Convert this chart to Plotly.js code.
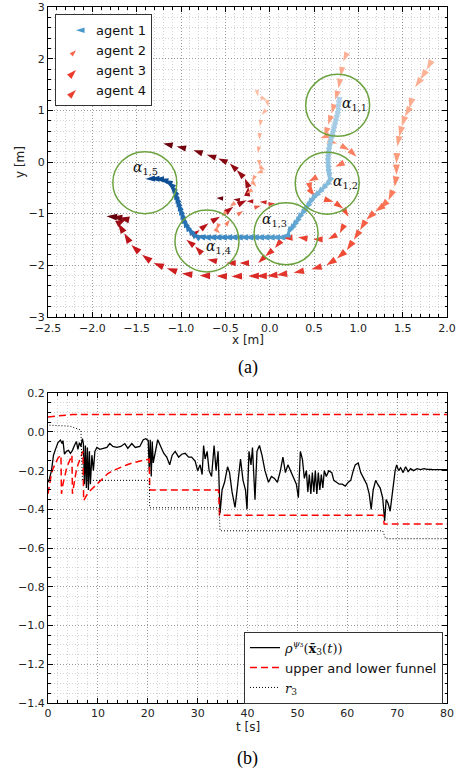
<!DOCTYPE html>
<html>
<head>
<meta charset="utf-8">
<script src="https://cdn.plot.ly/plotly-3.0.1.min.js"></script>
<style>html,body{margin:0;padding:0;background:#fff;}#chart{width:459px;height:770px;}</style>
</head>
<body>
<div id="chart"></div>
<script>
// ---------- (a) trajectories ----------
const agent1X = [0.78,0.775,0.77,0.765,0.755,0.745,0.735,0.725,0.715,0.705,0.695,0.685,0.677,0.67,0.665,0.662,0.66,0.66,0.662,0.665,0.667,0.668,0.665,
  0.64,0.6,0.56,0.52,0.48,0.45,0.42,0.39,0.36,0.33,0.30,0.27,0.24,0.21,0.19,
  0.13,0.07,0.01,-0.05,-0.11,-0.17,-0.23,-0.29,-0.35,-0.41,-0.47,-0.53,-0.59,-0.65,-0.71,-0.77,-0.83,
  -0.87,-0.9,-0.93,-0.955,-0.975,-0.99,-1.005,-1.02,-1.035,-1.05,-1.065,-1.08,-1.1,-1.125,-1.16,-1.2,-1.25,-1.3,-1.35,-1.4];
const agent1Y = [1.15,1.08,1.01,0.94,0.87,0.80,0.73,0.66,0.59,0.52,0.45,0.38,0.31,0.24,0.17,0.10,0.03,-0.04,-0.11,-0.18,-0.25,-0.32,-0.38,
  -0.44,-0.51,-0.58,-0.65,-0.72,-0.79,-0.87,-0.94,-1.01,-1.08,-1.16,-1.23,-1.30,-1.37,-1.43,
  -1.46,-1.46,-1.46,-1.46,-1.46,-1.46,-1.46,-1.46,-1.46,-1.46,-1.46,-1.46,-1.46,-1.46,-1.46,-1.45,-1.43,
  -1.38,-1.32,-1.25,-1.17,-1.09,-1.01,-0.93,-0.85,-0.77,-0.69,-0.62,-0.55,-0.49,-0.43,-0.38,-0.35,-0.33,-0.325,-0.325,-0.33];

const agent2X = [-0.15,-0.13,-0.03,-0.015,-0.09,-0.11,-0.115,-0.13,-0.11,-0.05,-0.15,-0.2,-0.15,-0.26,-0.45,-0.54,-0.6,-0.56,-0.45,-0.3,-0.1,0.06,-0.11,-0.26,-0.41,-0.6];
const agent2Y = [1.43,1.27,1.2,1.07,0.91,0.69,0.43,0.17,-0.09,-0.16,-0.22,-0.38,-0.48,-0.61,-0.87,-1.06,-1.32,-1.38,-1.12,-0.95,-0.85,-0.8,-0.77,-0.76,-0.72,-0.7];

const agent3X = [0.87,0.83,0.80,0.775,0.74,0.70,0.66,0.62,0.57,0.76,0.9,0.98,0.74,0.44,0.47,0.51,0.72,0.83,0.89,0.79,0.66,0.49,0.32,0.15,0.06,-0.05,-0.13,-0.34,-0.49,-0.70,-0.84,-0.94,-0.79,-0.69,-0.56,-0.41,-0.26,-0.24,-0.28,-0.37,-0.45,-0.58,-0.71,-0.86,-1.05,-1.2];
const agent3Y = [2.11,1.95,1.66,1.43,1.2,0.94,0.72,0.49,0.46,0.36,0.23,0.1,-0.09,-0.38,-0.58,-0.67,-0.77,-0.9,-1.06,-1.38,-1.5,-1.5,-1.46,-1.48,-1.67,-1.83,-1.96,-1.96,-1.96,-1.89,-1.64,-1.51,-1.32,-1.19,-1.06,-0.87,-0.74,-0.48,-0.32,-0.16,-0.03,0.07,0.14,0.23,0.3,0.36];

const agent4X = [1.83,1.77,1.70,1.64,1.575,1.525,1.49,1.46,1.44,1.43,1.43,1.41,1.34,1.24,1.19,1.09,1.02,0.95,0.87,0.76,0.64,0.47,0.27,0.08,-0.03,-0.15,-0.24,-0.43,-0.6,-0.79,-0.99,-1.16,-1.31,-1.44,-1.56,-1.64,-1.71,-1.62,-1.7,-1.78,-1.84];
const agent4Y = [1.98,1.79,1.6,1.45,1.04,0.88,0.69,0.49,0.3,-0.03,-0.25,-0.48,-0.74,-0.9,-0.96,-1.12,-1.32,-1.51,-1.71,-1.87,-2.0,-2.08,-2.15,-2.19,-2.21,-2.21,-2.21,-2.22,-2.21,-2.2,-2.16,-2.06,-1.96,-1.8,-1.61,-1.38,-1.19,-1.11,-1.08,-1.06,-1.05];

const agentNames = ['agent 1','agent 2','agent 3','agent 4'];

const regionX = [0.767,0.649,0.185,-0.707,-1.408];
const regionY = [1.10,-0.41,-1.39,-1.53,-0.40];
const regionLabels = ['<i>α</i><sub>1,1</sub>','<i>α</i><sub>1,2</sub>','<i>α</i><sub>1,3</sub>','<i>α</i><sub>1,4</sub>','<i>α</i><sub>1,5</sub>'];
const regionLabelX = [0.955,0.86,0.05,-0.58,-1.40];
const regionLabelY = [1.13,-0.39,-1.13,-1.64,-0.11];

// ---------- (b) robustness over time ----------
const rhoT = [0,0.3,0.7,1.1,1.5,2.0,2.5,2.8,3.0,3.3,
  3.7,4.1,4.5,4.9,5.3,5.7,6.0,6.3,6.6,6.9,
  7.1,7.3,7.5,7.7,7.9,8.1,8.3,8.5,8.8,9.1,
  9.4,9.8,10.4,11.0,11.8,12.4,13.0,13.8,14.6,15.4,
  16.0,16.8,17.5,18.4,19.1,19.6,20.1,20.3,20.5,20.7,
  20.9,21.1,21.5,22.0,22.6,23.2,23.8,24.4,24.9,25.5,
  26.2,26.8,27.5,28.2,28.8,29.5,30.0,30.5,30.9,31.2,
  31.5,31.9,32.3,32.8,33.3,33.7,34.1,34.5,34.9,35.4,
  36.0,36.4,36.9,37.5,38.0,38.6,39.1,39.6,39.9,40.3,
  40.7,41.0,41.5,41.9,42.4,42.9,43.5,44.2,44.8,45.4,
  46.0,46.6,47.1,47.6,48.1,48.6,49.2,49.8,50.2,50.6,
  51.0,51.4,51.8,52.1,52.4,52.7,53.0,53.3,53.6,53.9,
  54.2,54.5,54.8,55.1,55.4,55.8,56.3,56.9,57.3,57.8,
  58.4,59.0,59.6,60.2,60.7,61.2,61.6,62.2,62.7,63.3,
  63.9,64.4,64.8,65.2,65.7,66.1,66.6,67.1,67.5,67.8,
  68.2,68.6,69.1,69.6,69.9,70.3,70.7,71.2,71.7,72.2,
  72.7,73.3,74.0,74.7,75.4,76.0,77.0,78.0,79.0,80.0];
const rhoV = [-0.26,-0.24,-0.2,-0.12,-0.09,-0.055,-0.042,-0.06,-0.045,-0.115,
  -0.1,-0.095,-0.11,-0.095,-0.07,-0.05,-0.09,-0.055,-0.075,-0.035,
  -0.06,-0.27,-0.07,-0.29,-0.08,-0.3,-0.1,-0.27,-0.12,-0.2,
  -0.1,-0.08,-0.09,-0.085,-0.08,-0.06,-0.075,-0.08,-0.075,-0.06,
  -0.085,-0.06,-0.08,-0.075,-0.04,-0.035,-0.045,-0.2,-0.04,-0.23,
  -0.05,-0.16,-0.1,-0.04,-0.075,-0.11,-0.13,-0.17,-0.12,-0.1,
  -0.13,-0.115,-0.11,-0.13,-0.13,-0.15,-0.2,-0.17,-0.22,-0.07,
  -0.14,-0.1,-0.2,-0.23,-0.07,-0.2,-0.1,-0.42,-0.3,-0.26,
  -0.18,-0.21,-0.31,-0.39,-0.28,-0.14,-0.25,-0.3,-0.4,-0.1,
  -0.17,-0.08,-0.35,-0.1,-0.07,-0.12,-0.2,-0.26,-0.23,-0.24,
  -0.26,-0.2,-0.13,-0.21,-0.17,-0.2,-0.24,-0.27,-0.34,-0.1,
  -0.14,-0.24,-0.2,-0.31,-0.22,-0.32,-0.21,-0.31,-0.2,-0.32,
  -0.21,-0.3,-0.22,-0.29,-0.2,-0.23,-0.2,-0.21,-0.25,-0.26,
  -0.27,-0.27,-0.28,-0.26,-0.25,-0.2,-0.17,-0.16,-0.21,-0.24,
  -0.27,-0.32,-0.4,-0.3,-0.25,-0.27,-0.29,-0.34,-0.46,-0.35,
  -0.37,-0.41,-0.3,-0.2,-0.17,-0.2,-0.185,-0.21,-0.18,-0.205,
  -0.19,-0.2,-0.19,-0.195,-0.19,-0.193,-0.194,-0.195,-0.195,-0.195];

const upperT = [0,1,2,3,4,5,80];
const upperV = [0.078,0.081,0.084,0.087,0.089,0.09,0.09];

const lowerT = [0,0.3,0.6,1.0,1.5,2.0,2.6,2.7,3.0,3.4,3.8,4.3,4.8,4.9,5.2,5.6,6.0,6.5,7.0,7.15,
  8,9,10,11,12,13,14,15,16,17,18,19,20.3,20.4,34.2,34.4,67.2,67.4,80];
const lowerV = [-0.32,-0.27,-0.23,-0.19,-0.16,-0.135,-0.12,-0.32,-0.27,-0.22,-0.18,-0.15,-0.12,-0.32,-0.26,-0.21,-0.17,-0.13,-0.1,-0.355,
  -0.315,-0.29,-0.265,-0.24,-0.215,-0.2,-0.188,-0.177,-0.168,-0.16,-0.153,-0.147,-0.141,-0.30,-0.30,-0.43,-0.43,-0.476,-0.476];

const rT = [0.3,3,4.4,5.5,6.6,6.9,20.3,20.4,34.3,34.5,67.1,67.7,80];
const rV = [0.035,0.034,0.03,0.02,0.01,-0.25,-0.25,-0.392,-0.392,-0.511,-0.511,-0.552,-0.552];

const seriesNames = ['<span style="font-family:\'DejaVu Serif\'"><i>ρ</i><sup><i>ψ</i>₃</sup>(<b>x̄</b><sub>3</sub>(<i>t</i>))</span>',
  'upper and lower funnel',
  '<span style="font-family:\'DejaVu Serif\'"><i>r</i><sub>3</sub></span>'];

// ---------- styles ----------
const scale1 = [[0,'#b3d3e8'],[0.3,'#8cc0de'],[0.5,'#5aa2cf'],[0.7,'#3a87c2'],[0.85,'#2068ad'],[1,'#08468b']];
const scale2 = [[0,'#fcc3ab'],[0.5,'#fc9a7a'],[0.75,'#f77a5c'],[0.9,'#c9181d'],[1,'#67000d']];
const scale3 = [[0,'#fcb69b'],[0.2,'#fc8d6d'],[0.35,'#f45a3f'],[0.55,'#e4342a'],[0.7,'#c1161b'],[0.85,'#9a0c14'],[1,'#6a000d']];
const scale4 = [[0,'#fcb69b'],[0.2,'#fca486'],[0.3,'#fb7d5d'],[0.45,'#f2513a'],[0.6,'#e0302a'],[0.85,'#c8171c'],[0.93,'#9a0c14'],[1,'#67000d']];

function agentTrace(xs, ys, scale, symbol, size) {
  return {
    type:'scatter', mode:'markers', x:xs, y:ys, xaxis:'x', yaxis:'y',
    showlegend:false, hoverinfo:'skip',
    marker:{symbol:symbol, size:size, angleref:'previous',
      color: xs.map((_, i) => i / (xs.length - 1)), colorscale:scale, cmin:0, cmax:1,
      line:{width:0}}
  };
}
function legendDummy(name, color, angle, size) {
  return {type:'scatter', mode:'markers', x:[null], y:[null], xaxis:'x', yaxis:'y', name:name,
    legend:'legend', marker:{symbol:'arrow', angle:angle, size:size, color:color, line:{width:0}}};
}

const traces = [
  agentTrace(agent4X, agent4Y, scale4, 'arrow', 11),
  agentTrace(agent3X, agent3Y, scale3, 'arrow', 10),
  agentTrace(agent2X, agent2Y, scale2, 'arrow', 7),
  agentTrace(agent1X, agent1Y, scale1, 'arrow', 10),
  legendDummy(agentNames[0], '#4a98c9', -90, 9),
  legendDummy(agentNames[1], '#f7654a', 45, 7),
  legendDummy(agentNames[2], '#ee3a2c', 45, 10),
  legendDummy(agentNames[3], '#e93f30', 45, 10),
  {type:'scatter', mode:'lines', x:rhoT, y:rhoV, xaxis:'x2', yaxis:'y2', name:seriesNames[0], legend:'legend2',
    line:{color:'#000', width:1.3}, hoverinfo:'skip'},
  {type:'scatter', mode:'lines', x:upperT, y:upperV, xaxis:'x2', yaxis:'y2', name:seriesNames[1], legend:'legend2',
    legendgroup:'funnel', line:{color:'#ff0000', width:1.5, dash:'7px,4px'}, hoverinfo:'skip'},
  {type:'scatter', mode:'lines', x:lowerT, y:lowerV, xaxis:'x2', yaxis:'y2', name:seriesNames[1], legend:'legend2',
    legendgroup:'funnel', showlegend:false, line:{color:'#ff0000', width:1.5, dash:'7px,4px'}, hoverinfo:'skip'},
  {type:'scatter', mode:'lines', x:rT, y:rV, xaxis:'x2', yaxis:'y2', name:seriesNames[2], legend:'legend2',
    line:{color:'#000', width:1, dash:'1px,2px'}, hoverinfo:'skip'}
];

function axis(extra, minorDtick) {
  return Object.assign({
    showline:true, linecolor:'#000', linewidth:1, mirror:'allticks',
    ticks:'inside', ticklen:5, tickwidth:1, tickcolor:'#000',
    showgrid:true, gridcolor:'#9a9a9a', gridwidth:1, griddash:'1px,2px',
    zeroline:false, automargin:false, fixedrange:true,
    tickfont:{family:'DejaVu Sans', size:11, color:'#222'},
    minor:{dtick:minorDtick, ticks:'inside', ticklen:2.5, tickcolor:'#000', tickwidth:1,
      showgrid:true, gridcolor:'#d4d4d4', gridwidth:1, griddash:'1px,2px'}
  }, extra);
}

const W = 459, H = 770;
const xDom = [48/W, 447/W];
const shapes = regionX.map((cx, i) => ({
  type:'circle', xref:'x', yref:'y', xsizemode:'pixel', ysizemode:'pixel',
  xanchor:cx, yanchor:regionY[i], x0:-32, x1:32, y0:-31, y1:31,
  line:{color:'#6ca23f', width:1.5}, layer:'above'
}));

function paperText(px, py, text, font, extra) {
  return Object.assign({xref:'paper', yref:'paper', x:px/W, y:1-py/H, xanchor:'center', yanchor:'middle',
    text:text, showarrow:false, font:font}, extra || {});
}
const axisFont = {family:'DejaVu Sans', size:12, color:'#222'};
const capFont = {family:'Liberation Serif', size:18, color:'#000'};

const annotations = regionLabels.map((t, i) => ({
  xref:'x', yref:'y', x:regionLabelX[i], y:regionLabelY[i], xanchor:'center', yanchor:'middle', text:t,
  showarrow:false, font:{family:'DejaVu Serif', size:14, color:'#111'}
})).concat([
  paperText(247.5, 340, 'x [m]', axisFont),
  paperText(20, 162, 'y [m]', axisFont, {textangle:-90}),
  paperText(247.5, 368, '(a)', capFont),
  paperText(247.5, 727, 't [s]', axisFont),
  paperText(247.5, 758, '(b)', capFont)
]);

const layout = {
  width:W, height:H, margin:{l:0, r:0, t:0, b:0},
  paper_bgcolor:'#fff', plot_bgcolor:'#fff',
  font:{family:'DejaVu Sans', size:11, color:'#222'},
  xaxis: axis({domain:xDom, range:[-2.5,2.0], dtick:0.5, tick0:0, tickformat:'.1f', anchor:'y', ticklabelstandoff:1}, 0.1),
  yaxis: axis({domain:[1-316.7/H, 1-7.3/H], range:[-3,3], dtick:1, tick0:0, anchor:'x'}, 0.2),
  xaxis2: axis({domain:xDom, range:[0,80], dtick:10, tick0:0, anchor:'y2'}, 2),
  yaxis2: axis({domain:[1-702.7/H, 1-393.3/H], range:[-1.4,0.2], dtick:0.2, tick0:0, tickformat:'.1f', anchor:'x2'}, 0.05),
  showlegend:true,
  legend:{x:55/W, y:1-14.3/H, xanchor:'left', yanchor:'top', bgcolor:'#fff', bordercolor:'#333', borderwidth:1,
    font:{family:'DejaVu Sans', size:13, color:'#111'}, traceorder:'normal', tracegroupgap:0},
  legend2:{x:244/W, y:1-631.7/H, xanchor:'left', yanchor:'top', bgcolor:'#fff', bordercolor:'#333', borderwidth:1,
    font:{family:'DejaVu Sans', size:13, color:'#111'}, traceorder:'normal', tracegroupgap:0},
  shapes:shapes,
  annotations:annotations
};

Plotly.newPlot('chart', traces, layout, {staticPlot:true, displayModeBar:false});
</script>
</body>
</html>
